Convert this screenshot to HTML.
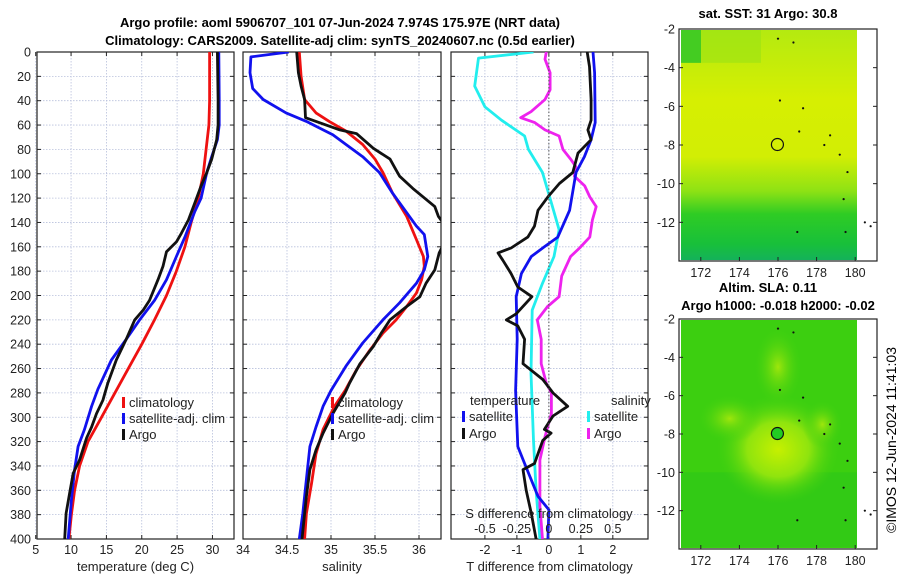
<!DOCTYPE html>
<html><head><meta charset="utf-8"><style>
body{margin:0;background:#fff;font-family:"Liberation Sans","DejaVu Sans",sans-serif}
svg text{font-family:"Liberation Sans","DejaVu Sans",sans-serif}
</style></head><body>
<svg id="fig" width="900" height="580" viewBox="0 0 900 580" xmlns="http://www.w3.org/2000/svg">
<defs>
<linearGradient id="sstGrad" x1="0" y1="0" x2="0" y2="1">
<stop offset="0" stop-color="#b4ea10"/><stop offset="0.3" stop-color="#d6ef02"/><stop offset="0.55" stop-color="#d2ee04"/>
<stop offset="0.7" stop-color="#8ee214"/><stop offset="0.8" stop-color="#2fcc24"/><stop offset="0.93" stop-color="#18c03a"/><stop offset="1" stop-color="#14b25a"/>
</linearGradient>
<radialGradient id="slaBlob" cx="0.5" cy="0.5" r="0.5">
<stop offset="0" stop-color="#c6f000"/><stop offset="0.5" stop-color="#8fe40e"/><stop offset="1" stop-color="#3fd010" stop-opacity="0"/>
</radialGradient>
<radialGradient id="slaBlob2" cx="0.5" cy="0.5" r="0.5">
<stop offset="0" stop-color="#9ee60c"/><stop offset="1" stop-color="#3fd010" stop-opacity="0"/>
</radialGradient>
<clipPath id="c1"><rect x="37" y="52" width="197" height="487"/></clipPath>
<clipPath id="c2"><rect x="243" y="52" width="198" height="487"/></clipPath>
<clipPath id="c3"><rect x="451" y="52" width="197" height="487"/></clipPath>
</defs>
<text x="340" y="27" font-size="13" font-weight="bold" text-anchor="middle">Argo profile: aoml 5906707_101 07-Jun-2024 7.974S 175.97E (NRT data)</text>
<text x="340" y="45" font-size="13" font-weight="bold" text-anchor="middle">Climatology: CARS2009. Satellite-adj clim: synTS_20240607.nc (0.5d earlier)</text>
<g id="panels"></g>
<g id="maps"></g>
<text transform="translate(896,440) rotate(-90)" font-size="14" text-anchor="middle">©IMOS 12-Jun-2024 11:41:03</text>
</svg>
<script>
// ---- depth axis ----
const depthTicks = [0,20,40,60,80,100,120,140,160,180,200,220,240,260,280,300,320,340,360,380,400];
// ---- temperature panel data (depth, value) ----
const tClimDepth = [0,40,60,80,100,120,140,160,180,200,220,240,260,280,300,320,340,360,380,400];
const tClimVal   = [29.6,29.6,29.5,29.1,28.7,28.0,27.0,26.1,24.9,23.5,21.8,20.0,18.1,16.2,14.3,12.4,11.2,10.5,10.05,9.7];
const tSatDepth  = [0,39,60,72,86,99,120,131,152,168,187,204,220,236,253,277,291,310,324,343,368,400];
const tSatVal    = [30.9,30.95,30.95,30.7,29.9,29.2,28.4,27.5,26.1,24.9,23.5,21.8,19.7,17.8,15.7,13.8,12.9,11.9,10.99,10.5,10.05,9.6];
const tArgoDepth = [0,39,60,72,88,99,110,124,138,149,156,164,176,187,204,212,220,236,253,272,286,297,308,317,335,346,362,379,400];
const tArgoVal   = [30.7,30.8,30.8,30.6,29.9,29.2,28.4,27.5,26.6,25.6,24.9,23.5,23.0,22.3,21.1,20.2,19.0,17.8,16.4,15.2,14.5,13.6,12.9,12.2,11.2,10.3,9.8,9.3,9.1];
const tTicks = [5,10,15,20,25,30];
// ---- salinity panel data ----
const sClimDepth = [0,20,39,50,57,65,76,88,99,116,135,154,168,176,187,198,209,220,231,245,261,278,291,310,330,354,379,400];
const sClimVal   = [34.64,34.66,34.70,34.83,34.98,35.17,35.36,35.50,35.59,35.70,35.86,35.97,36.05,36.06,36.03,35.97,35.86,35.74,35.59,35.44,35.29,35.16,35.04,34.91,34.83,34.78,34.72,34.70];
const sSatDepth  = [0,4,17,30,39,50,57,68,76,86,99,116,132,143,150,168,179,190,206,220,239,258,278,291,308,324,351,379,400];
const sSatVal    = [34.52,34.09,34.08,34.11,34.23,34.49,34.72,35.02,35.17,35.36,35.55,35.70,35.86,35.97,36.06,36.10,36.06,35.97,35.78,35.59,35.36,35.17,35.00,34.91,34.83,34.76,34.72,34.68,34.64];
const sArgoDepth = [0,17,28,39,54,57,64,67,79,88,97,102,112,121,127,135,140,152,165,179,190,201,209,220,231,242,256,272,280,297,313,327,343,365,400];
const sArgoVal   = [34.61,34.63,34.66,34.70,34.71,34.83,35.10,35.29,35.48,35.67,35.74,35.78,35.93,36.08,36.18,36.22,36.27,36.32,36.23,36.18,36.08,36.01,35.86,35.67,35.57,35.48,35.33,35.21,35.16,35.02,34.91,34.83,34.76,34.72,34.67];
const sTicks = [34,34.5,35,35.5,36];
// ---- difference panel data ----
const dTSatDepth  = [0,17,58,72,86,99,130,152,160,168,182,201,236,278,324,338,365,376,400];
const dTSatVal    = [1.38,1.43,1.45,1.32,1.11,0.85,0.65,0.28,-0.14,-0.55,-0.86,-1.02,-0.99,-1.04,-0.97,-0.76,-0.34,0,-0.03];
const dTArgoDepth = [0,12,39,56,64,72,83,99,108,119,130,143,152,161,165,171,182,193,201,215,220,225,236,256,269,280,291,299,310,313,319,338,343,360,379,400];
const dTArgoVal   = [1.20,1.27,1.32,1.32,1.22,1.32,0.91,0.75,0.33,-0.03,-0.34,-0.45,-0.66,-1.18,-1.59,-1.44,-1.18,-0.97,-0.53,-1.02,-1.33,-0.97,-0.76,-0.81,-0.19,0.13,0.59,0.13,-0.14,0.07,-0.19,-0.45,-0.81,-0.71,-0.55,-0.40];
const dSSatDepth  = [0,5,28,45,56,69,80,99,124,146,168,190,212,264,319,360,400];
const dSSatVal    = [-0.12,-0.55,-0.58,-0.50,-0.37,-0.19,-0.16,-0.05,0.02,0.08,0.04,-0.05,-0.13,-0.14,-0.12,-0.10,-0.07];
const dSArgoDepth = [0,6,17,31,39,49,54,58,64,69,80,88,94,102,110,119,127,138,152,161,168,184,201,209,220,236,256,272,280,297,316,335,373,400];
const dSArgoVal   = [-0.02,-0.03,0.01,0.01,-0.03,-0.14,-0.22,-0.11,-0.03,0.08,0.11,0.17,0.21,0.20,0.28,0.32,0.37,0.34,0.32,0.24,0.17,0.10,0.08,-0.01,-0.09,-0.06,-0.06,-0.02,0.02,0.02,-0.03,-0.07,-0.07,-0.05];
const dTTicks = [-2,-1,0,1,2];
const dSTicks = [-0.5,-0.25,0,0.25,0.5];
const dSTickLabels = ["-0.5","-0.25","0","0.25","0.5"];
// ---- map axes ----
const mapLatTicks = [-2,-4,-6,-8,-10,-12];
const mapLonTicks = [172,174,176,178,180];
const argoLon = 175.97, argoLat = -7.974;
const islandLon = [176.0,176.8,176.1,177.3,177.1,178.7,178.4,179.2,179.6,179.4,177.0,179.5,180.5,180.8];
const islandLat = [-2.5,-2.7,-5.7,-6.1,-7.3,-7.5,-8.0,-8.5,-9.4,-10.8,-12.5,-12.5,-12.0,-12.2];

const NS="http://www.w3.org/2000/svg";
function mk(tag,attrs,parent){const e=document.createElementNS(NS,tag);for(const k in attrs)e.setAttribute(k,attrs[k]);if(parent)parent.appendChild(e);return e;}
const Y0=52,Y1=539;
function yD(d){return Y0+(d/400)*(Y1-Y0);}
const panels=document.getElementById('panels');

function panel(name,x0,x1,xmin,xmax,ticks,labels,xlabel,clip){
  const g=mk('g',{},panels);
  
  
  const xs=v=>x0+(v-xmin)/(xmax-xmin)*(x1-x0);
  depthTicks.forEach(d=>{const l=mk('line',{x1:x0,x2:x1,y1:yD(d),y2:yD(d),stroke:'#b8c0dc','stroke-width':0.8,'stroke-dasharray':'1.5,1.5'},g);
    
    mk('line',{x1:x0,x2:x0+4,y1:yD(d),y2:yD(d),stroke:'#222'},g);mk('line',{x1:x1-4,x2:x1,y1:yD(d),y2:yD(d),stroke:'#222'},g);});
  ticks.forEach((v,i)=>{const X=xs(v);const l=mk('line',{x1:X,x2:X,y1:Y0,y2:Y1,stroke:'#b8c0dc','stroke-width':0.8,'stroke-dasharray':'1.5,1.5'},g);
    
    mk('line',{x1:X,x2:X,y1:Y1-4,y2:Y1,stroke:'#222'},g);mk('line',{x1:X,x2:X,y1:Y0,y2:Y0+4,stroke:'#222'},g);
    const t=mk('text',{x:X,y:554,'font-size':12.5,'text-anchor':'middle',fill:'#222'},g);t.textContent=labels[i];
    });
  const r=mk('rect',{x:x0,y:Y0,width:x1-x0,height:Y1-Y0,fill:'none',stroke:'#222','stroke-width':1.2},g);
  
  const xl=mk('text',{x:(x0+x1)/2,y:571,'font-size':13,'text-anchor':'middle',fill:'#222'},g);xl.textContent=xlabel;
  
  const series=mk('g',{'clip-path':'url(#'+clip+')'},g);
  return {g,xs,series};
}
function line(p,depths,vals,scale,color,name){
  const pts=depths.map((d,i)=>scale(vals[i]).toFixed(1)+','+yD(d).toFixed(1)).join(' ');
  const l=mk('polyline',{points:pts,fill:'none',stroke:color,'stroke-width':2.8,'stroke-linejoin':'round'},p.series);
  
}
function legend(g,x,y,color,label,name){
  mk('rect',{x:x,y:y-10,width:3,height:11,fill:color},g);
  const t=mk('text',{x:x+7,y:y,'font-size':13,fill:'#222'},g);t.textContent=label;
  
}
depthTicks.forEach(d=>{const t=mk('text',{x:31,y:yD(d)+4.5,'font-size':12.5,'text-anchor':'end',fill:'#222'},panels);t.textContent=d;
  });

const p1=panel('temperature',37,234,5.18,33.05,tTicks,tTicks.map(String),'temperature (deg C)','c1');
line(p1,tClimDepth,tClimVal,p1.xs,'#ee1111','temp-climatology-line');
line(p1,tSatDepth,tSatVal,p1.xs,'#1111ee','temp-satellite-line');
line(p1,tArgoDepth,tArgoVal,p1.xs,'#111','temp-argo-line');
legend(p1.g,122,407,'#ee1111','climatology','legend-climatology');
legend(p1.g,122,423,'#1111ee','satellite-adj. clim','legend-satellite');
legend(p1.g,122,439,'#111','Argo','legend-argo');

const p2=panel('salinity',243,441,34,36.25,sTicks,['34','34.5','35','35.5','36'],'salinity','c2');
line(p2,sClimDepth,sClimVal,p2.xs,'#ee1111','sal-climatology-line');
line(p2,sSatDepth,sSatVal,p2.xs,'#1111ee','sal-satellite-line');
line(p2,sArgoDepth,sArgoVal,p2.xs,'#111','sal-argo-line');
legend(p2.g,331,407,'#ee1111','climatology','legend-climatology');
legend(p2.g,331,423,'#1111ee','satellite-adj. clim','legend-satellite');
legend(p2.g,331,439,'#111','Argo','legend-argo');

const p3=panel('difference',451,648,-3.06,3.1,dTTicks,['-2','-1','0','1','2'],'T difference from climatology','c3');
const sS=v=>p3.xs(v*4);
const zl=mk('line',{x1:p3.xs(0),x2:p3.xs(0),y1:Y0,y2:Y1,stroke:'#555','stroke-width':1,'stroke-dasharray':'1.5,2'},p3.g);

line(p3,dSSatDepth,dSSatVal,sS,'#22eeee','sdiff-satellite-line');
line(p3,dSArgoDepth,dSArgoVal,sS,'#ee22ee','sdiff-argo-line');
line(p3,dTSatDepth,dTSatVal,p3.xs,'#1111ee','tdiff-satellite-line');
line(p3,dTArgoDepth,dTArgoVal,p3.xs,'#111','tdiff-argo-line');
let tt=mk('text',{x:470,y:405,'font-size':13,fill:'#222'},p3.g);tt.textContent='temperature';

tt=mk('text',{x:611,y:405,'font-size':13,fill:'#222'},p3.g);tt.textContent='salinity';

legend(p3.g,462,421,'#1111ee','satellite','legend-t-satellite');
legend(p3.g,462,438,'#111','Argo','legend-t-argo');
legend(p3.g,587,421,'#22eeee','satellite','legend-s-satellite');
legend(p3.g,587,438,'#ee22ee','Argo','legend-s-argo');
tt=mk('text',{x:549,y:518,'font-size':13,'text-anchor':'middle',fill:'#222'},p3.g);tt.textContent='S difference from climatology';

dSTicks.forEach((v,i)=>{const t=mk('text',{x:sS(v),y:533,'font-size':12.5,'text-anchor':'middle',fill:'#222'},p3.g);t.textContent=dSTickLabels[i];
  });

// ---- maps ----
const maps=document.getElementById('maps');
function map(name,top,bottom,title1,title2,kind){
  const g=mk('g',{},maps);
  
  const X0=679,X1=877;
  const lx=v=>778+(v-176)*19.3;
  const ly=v=>top+(-2-v)*((bottom-top)/12);
  if(kind==='sst'){
    const r=mk('rect',{x:681,y:top+1,width:176,height:ly(-13.9)-top,fill:'url(#sstGrad)'},g);
    
    mk('rect',{x:681,y:top+1,width:20,height:ly(-3.7)-top,fill:'#44cc22'},g);
    mk('rect',{x:701,y:top+1,width:60,height:ly(-3.7)-top,fill:'#9ae214',opacity:0.6},g);
  } else {
    const r=mk('rect',{x:681,y:top+1,width:176,height:ly(-13.9)-top,fill:'#3ccf10'},g);
    
    mk('rect',{x:681,y:ly(-10),width:176,height:ly(-13.9)-ly(-10),fill:'#2ec818',opacity:0.7},g);
    mk('ellipse',{cx:lx(176),cy:ly(-8.8),rx:62,ry:55,fill:'url(#slaBlob)'},g);
    mk('ellipse',{cx:lx(176),cy:ly(-4.5),rx:24,ry:40,fill:'url(#slaBlob2)'},g);
    mk('ellipse',{cx:lx(173.5),cy:ly(-7.2),rx:32,ry:24,fill:'url(#slaBlob2)'},g);
    mk('ellipse',{cx:lx(178.3),cy:ly(-7.5),rx:20,ry:24,fill:'url(#slaBlob2)'},g);
  }
  islandLon.forEach((lo,i)=>{mk('circle',{cx:lx(lo),cy:ly(islandLat[i]),r:1.1,fill:'#111'},g);});
  const c=mk('circle',{cx:lx(argoLon),cy:ly(argoLat),r:6,fill:kind==='sla'?'#22cc22':'none',stroke:'#111','stroke-width':1.2},g);
  
  mk('rect',{x:X0,y:top,width:X1-X0,height:bottom-top,fill:'none',stroke:'#222','stroke-width':1.2},g);
  mapLatTicks.forEach(v=>{const Y=ly(v);mk('line',{x1:X0,x2:X0+4,y1:Y,y2:Y,stroke:'#222'},g);mk('line',{x1:X1-4,x2:X1,y1:Y,y2:Y,stroke:'#222'},g);
    const t=mk('text',{x:675,y:Y+4.5,'font-size':12.5,'text-anchor':'end',fill:'#222'},g);t.textContent=v;
    });
  mapLonTicks.forEach(v=>{const X=lx(v);mk('line',{x1:X,x2:X,y1:bottom-4,y2:bottom,stroke:'#222'},g);
    const t=mk('text',{x:X,y:bottom+16,'font-size':12.5,'text-anchor':'middle',fill:'#222'},g);t.textContent=v;
    });
  let t=mk('text',{x:768,y:title2?top-27:top-11,'font-size':13,'font-weight':'bold','text-anchor':'middle'},g);t.textContent=title1;
  
  if(title2){t=mk('text',{x:778,y:top-9,'font-size':13,'font-weight':'bold','text-anchor':'middle'},g);t.textContent=title2;
    }
}
map('sst-map',29,261,'sat. SST: 31 Argo: 30.8',null,'sst');
map('sla-map',319,549,'Altim. SLA: 0.11','Argo h1000: -0.018 h2000: -0.02','sla');
</script>
</body></html>
